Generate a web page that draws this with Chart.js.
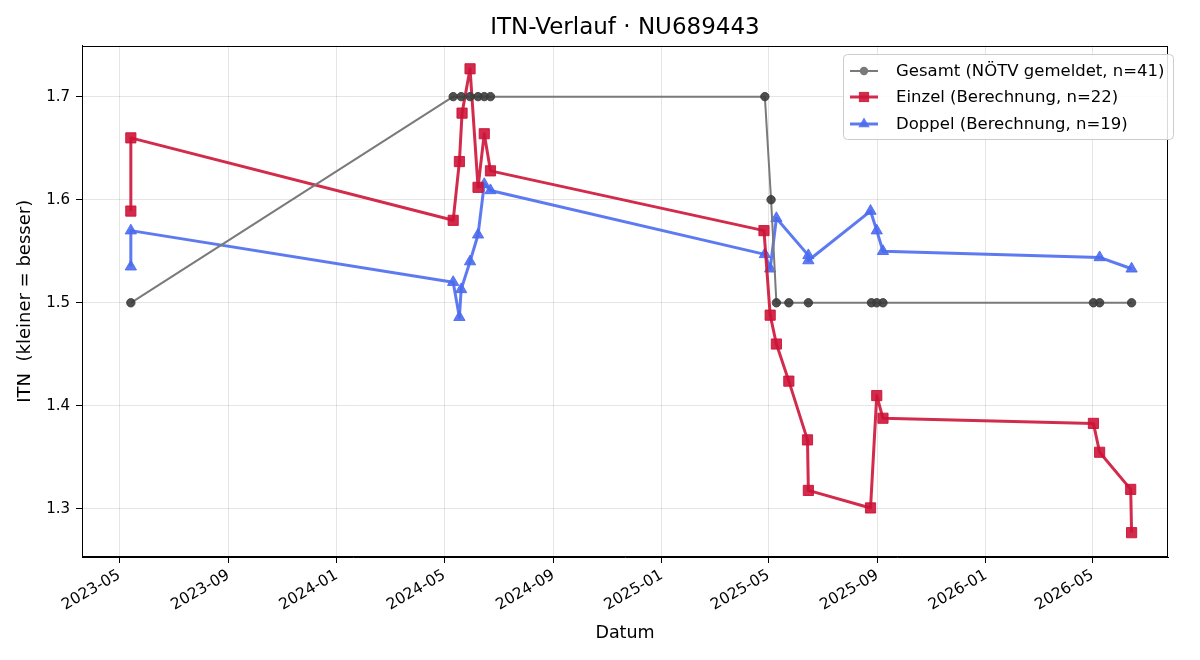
<!DOCTYPE html>
<html>
<head>
<meta charset="utf-8">
<script src="https://cdn.jsdelivr.net/npm/chart.js@4"></script>
<style>html,body{margin:0;padding:0;background:#fff}</style>
</head>
<body>
<canvas id="c" width="1200" height="660"></canvas>
<script>
// tick labels (month starts)
const tickLabels = ['2023-05', '2023-09', '2024-01', '2024-05', '2024-09', '2025-01', '2025-05', '2025-09', '2026-01', '2026-05'];
const yTicks = [1.3, 1.4, 1.5, 1.6, 1.7];

// Gesamt (NÖTV gemeldet)
const gesamtDates = ['2023-05-14', '2024-05-11', '2024-05-20', '2024-05-30', '2024-06-08', '2024-06-15', '2024-06-22',
  '2025-04-27', '2025-05-04', '2025-05-10', '2025-05-24', '2025-06-15', '2025-08-25', '2025-08-31', '2025-09-07',
  '2026-05-02', '2026-05-09', '2026-06-14'];
const gesamtITN = [1.5, 1.7, 1.7, 1.7, 1.7, 1.7, 1.7,
  1.7, 1.6, 1.5, 1.5, 1.5, 1.5, 1.5, 1.5,
  1.5, 1.5, 1.5];

// Einzel (Berechnung)
const einzelDates = ['2023-05-14', '2023-05-14', '2024-05-11', '2024-05-18', '2024-05-21', '2024-05-30', '2024-06-08',
  '2024-06-15', '2024-06-22', '2025-04-26', '2025-05-03', '2025-05-10', '2025-05-24', '2025-06-14', '2025-06-15',
  '2025-08-24', '2025-08-31', '2025-09-07', '2026-05-02', '2026-05-09', '2026-06-13', '2026-06-14'];
const einzelITN = [1.589, 1.660, 1.580, 1.637, 1.684, 1.727, 1.612,
  1.664, 1.628, 1.570, 1.488, 1.460, 1.424, 1.367, 1.318,
  1.301, 1.410, 1.388, 1.383, 1.355, 1.319, 1.277];

// Doppel (Berechnung)
const doppelDates = ['2023-05-14', '2023-05-14', '2024-05-11', '2024-05-18', '2024-05-20', '2024-05-30', '2024-06-08',
  '2024-06-15', '2024-06-22', '2025-04-27', '2025-05-03', '2025-05-10', '2025-06-15', '2025-06-15',
  '2025-08-24', '2025-08-31', '2025-09-07', '2026-05-09', '2026-06-14'];
const doppelITN = [1.535, 1.570, 1.520, 1.486, 1.513, 1.540, 1.566,
  1.615, 1.609, 1.547, 1.533, 1.582, 1.546, 1.541,
  1.589, 1.570, 1.550, 1.544, 1.533];

function day(s) {
  const p = s.split('-').map(Number);
  return Date.UTC(p[0], p[1] - 1, p[2] || 1);
}
function pts(d, v) {
  return d.map((s, i) => ({x: day(s), y: v[i]}));
}

const FONT = "'DejaVu Sans', sans-serif";
const GRAY = '#7a7a7a';
const RED = 'rgba(205,20,55,0.9)';
const BLUE = 'rgba(75,108,240,0.9)';

const series = [
  {label: 'Gesamt (NÖTV gemeldet, n=41)', data: pts(gesamtDates, gesamtITN), color: GRAY,
    pointColor: 'rgba(60,60,60,0.9)', style: 'circle', radius: 4.2, width: 2},
  {label: 'Einzel (Berechnung, n=22)', data: pts(einzelDates, einzelITN), color: RED,
    pointColor: RED, style: 'rect', radius: 7.2, width: 3},
  {label: 'Doppel (Berechnung, n=19)', data: pts(doppelDates, doppelITN), color: BLUE,
    pointColor: BLUE, style: 'triangle', radius: 6.5, width: 3}
];

const framePlugin = {
  id: 'frame',
  afterDatasetsDraw(chart) {
    const a = chart.chartArea, ctx = chart.ctx;
    ctx.save();
    ctx.strokeStyle = '#000';
    ctx.lineWidth = 1;
    ctx.strokeRect(Math.round(a.left) + 0.5, Math.round(a.top) + 0.5,
      Math.round(a.right - a.left) - 1, Math.round(a.bottom - a.top) - 1);
    ctx.restore();
  }
};

const legendPlugin = {
  id: 'mplLegend',
  afterDraw(chart) {
    const ctx = chart.ctx;
    const x0 = 843, y0 = 54, w = 330, h = 85, r = 4;
    ctx.save();
    ctx.beginPath();
    ctx.roundRect(x0 + 0.5, y0 + 0.5, w, h, r);
    ctx.fillStyle = 'rgba(255,255,255,0.85)';
    ctx.fill();
    ctx.strokeStyle = '#cccccc';
    ctx.lineWidth = 1;
    ctx.stroke();
    const rows = [71, 97, 124];
    series.forEach((s, i) => {
      const y = rows[i];
      ctx.beginPath();
      ctx.moveTo(850, y);
      ctx.lineTo(878, y);
      ctx.strokeStyle = s.color;
      ctx.lineWidth = s.width;
      ctx.stroke();
      ctx.fillStyle = i === 0 ? GRAY : s.pointColor;
      Chart.helpers.drawPoint(ctx, {pointStyle: s.style, radius: s.radius, borderWidth: 0}, 864, y);
      ctx.fillStyle = '#000';
      ctx.font = '16.5px ' + FONT;
      ctx.textBaseline = 'middle';
      ctx.textAlign = 'left';
      ctx.fillText(s.label, 896, y + 1);
    });
    ctx.restore();
  }
};

new Chart(document.getElementById('c'), {
  type: 'line',
  data: {
    datasets: series.map(s => ({
      label: s.label,
      data: s.data,
      borderColor: s.color,
      borderWidth: s.width,
      borderJoinStyle: 'round',
      backgroundColor: s.pointColor,
      pointBackgroundColor: s.pointColor,
      pointBorderColor: s.pointColor,
      pointBorderWidth: 1,
      pointStyle: s.style,
      pointRadius: s.radius,
      tension: 0,
      fill: false
    }))
  },
  options: {
    responsive: false,
    devicePixelRatio: 1,
    animation: false,
    layout: {padding: {left: 0, right: 32, top: 0, bottom: 0}},
    plugins: {
      legend: {display: false},
      tooltip: {enabled: false},
      title: {
        display: true,
        fullSize: false,
        text: 'ITN-Verlauf · NU689443',
        color: '#000',
        font: {family: FONT, size: 23, weight: 'normal'},
        padding: {top: 14, bottom: 4}
      }
    },
    scales: {
      x: {
        type: 'linear',
        min: day('2023-03-20'),
        max: day('2026-07-25'),
        afterBuildTicks: s => { s.ticks = tickLabels.map(l => ({value: day(l)})); },
        afterFit: s => { s.height = 103; },
        ticks: {
          callback: (v, i) => tickLabels[i],
          minRotation: 30, maxRotation: 30, autoSkip: false,
          color: '#000', font: {family: FONT, size: 15.5}, padding: 3
        },
        grid: {color: 'rgba(0,0,0,0.1)', tickColor: '#000', tickLength: 6},
        border: {display: true, color: '#000'},
        title: {display: true, text: 'Datum', color: '#000', font: {family: FONT, size: 17.5},
          padding: {top: 4, bottom: 16}}
      },
      y: {
        min: 1.2534,
        max: 1.7495,
        afterBuildTicks: s => { s.ticks = yTicks.map(v => ({value: v})); },
        afterFit: s => { s.width = 82; },
        ticks: {
          callback: v => v.toFixed(1),
          color: '#000', font: {family: FONT, size: 15}, padding: 6
        },
        grid: {color: 'rgba(0,0,0,0.1)', tickColor: '#000', tickLength: 6},
        border: {display: true, color: '#000'},
        title: {display: true, text: 'ITN  (kleiner = besser)', color: '#000', font: {family: FONT, size: 18},
          padding: {top: 15, bottom: 6}}
      }
    }
  },
  plugins: [framePlugin, legendPlugin]
});
</script>
</body>
</html>
